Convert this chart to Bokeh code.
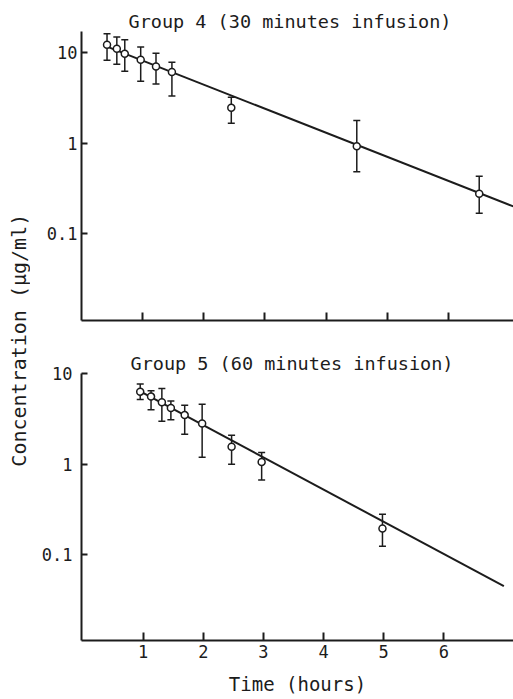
import math
from bokeh.plotting import figure
from bokeh.models import (FixedTicker, Whisker, ColumnDataSource, TeeHead, Label,
                          Range1d, CustomJSTickFormatter)
from bokeh.layouts import row, column
from bokeh.embed import file_html
from bokeh.resources import INLINE

# ---------------- data ----------------
title4 = "Group 4 (30 minutes infusion)"
t4 = [0.42, 0.58, 0.71, 0.97, 1.22, 1.48, 2.45, 4.5, 6.5]
c4 = [12.2, 11.0, 9.7, 8.3, 7.0, 6.1, 2.45, 0.92, 0.275]
hi4 = [16.1, 14.8, 13.8, 11.5, 9.8, 7.8, 3.2, 1.77, 0.43]
lo4 = [8.2, 7.4, 6.2, 4.8, 4.5, 3.3, 1.65, 0.48, 0.168]
fit4_t = [0.42, 7.06]
fit4_c = [11.6, 0.199]

title5 = "Group 5 (60 minutes infusion)"
t5 = [0.95, 1.13, 1.31, 1.46, 1.69, 1.98, 2.47, 2.97, 4.98]
c5 = [6.35, 5.6, 4.84, 4.2, 3.5, 2.82, 1.56, 1.06, 0.195]
hi5 = [7.7, 6.5, 6.9, 5.0, 4.5, 4.6, 2.1, 1.35, 0.28]
lo5 = [5.2, 4.0, 3.0, 3.1, 2.15, 1.2, 1.0, 0.67, 0.124]
fit5_t = [0.95, 7.0]
fit5_c = [6.4, 0.045]

x_ticks = [1, 2, 3, 4, 5, 6]
y_ticks = [0.1, 1, 10]
y_label = "Concentration (µg/ml)"
x_label = "Time (hours)"

FONT = "DejaVu Sans Mono"
INK = "#1c1c1c"


def panel(title, title_offset, t, c, lo, hi, ft, fc, height, xr, yr, top, bottom,
          show_x_labels, ylab_standoff):
    p = figure(width=483, height=height, y_axis_type="log",
               x_range=Range1d(*xr), y_range=Range1d(*yr),
               output_backend="svg", toolbar_location=None,
               min_border_left=51, min_border_right=0,
               min_border_top=top, min_border_bottom=bottom)
    p.grid.visible = False
    p.outline_line_color = None
    p.background_fill_color = "white"

    p.title.text = title
    p.title.text_font = FONT
    p.title.text_font_size = "18.5px"
    p.title.text_font_style = "normal"
    p.title.text_color = INK
    p.title.align = "left"
    p.title.offset = title_offset
    p.title.standoff = 0

    p.xaxis.ticker = FixedTicker(ticks=x_ticks, minor_ticks=[])
    p.yaxis.ticker = FixedTicker(ticks=y_ticks, minor_ticks=[])
    p.yaxis.formatter = CustomJSTickFormatter(code="return String(tick)")
    if show_x_labels:
        p.xaxis.formatter = CustomJSTickFormatter(code="return String(tick)")
    else:
        p.xaxis.formatter = CustomJSTickFormatter(code="return ''")

    for ax in (p.xaxis[0], p.yaxis[0]):
        ax.axis_line_color = INK
        ax.axis_line_width = 2
        ax.major_tick_line_color = INK
        ax.major_tick_line_width = 2
        ax.major_tick_out = 0
        ax.major_label_text_font = FONT
        ax.major_label_text_font_size = "17px"
        ax.major_label_text_color = INK
    p.xaxis.major_tick_in = 8
    p.yaxis.major_tick_in = 6
    p.xaxis.major_label_standoff = 4
    p.yaxis.major_label_standoff = ylab_standoff

    src = ColumnDataSource(dict(t=t, lo=lo, hi=hi))
    w = Whisker(base="t", lower="lo", upper="hi", source=src, dimension="height",
                line_color=INK, line_width=1.5,
                upper_head=TeeHead(size=7, line_color=INK, line_width=1.5),
                lower_head=TeeHead(size=7, line_color=INK, line_width=1.5))
    p.add_layout(w)
    p.line(ft, fc, line_color=INK, line_width=2)
    p.scatter(t, c, marker="circle", size=7, fill_color="white",
              line_color=INK, line_width=1.5)
    return p


p1 = panel(title4, 47, t4, c4, lo4, hi4, fit4_t, fit4_c, 341,
           (0.003, 7.06), (0.01094, 17.06), 31, 21, False, 4)
p2 = panel(title5, 49, t5, c5, lo5, hi5, fit5_t, fit5_c, 358,
           (-0.027, 7.16), (0.0113, 10.08), 32, 59, True, 9)
p2.xaxis.axis_label = x_label
p2.xaxis.axis_label_text_font = FONT
p2.xaxis.axis_label_text_font_size = "19px"
p2.xaxis.axis_label_text_font_style = "normal"
p2.xaxis.axis_label_text_color = INK
p2.xaxis.axis_label_standoff = 12

lf = figure(width=30, height=699, x_range=Range1d(0, 1), y_range=Range1d(0, 1),
            x_axis_type=None, y_axis_type=None, output_backend="svg",
            toolbar_location=None, min_border=0)
lf.outline_line_color = None
lf.grid.visible = False
lf.add_layout(Label(x=0.6, y=0.514, text=y_label, angle=math.pi / 2,
                    text_align="center", text_baseline="middle",
                    text_font=FONT, text_font_size="20px", text_color=INK))

layout = row(lf, column(p1, p2))
open("out.html", "w").write(file_html(layout, INLINE))
